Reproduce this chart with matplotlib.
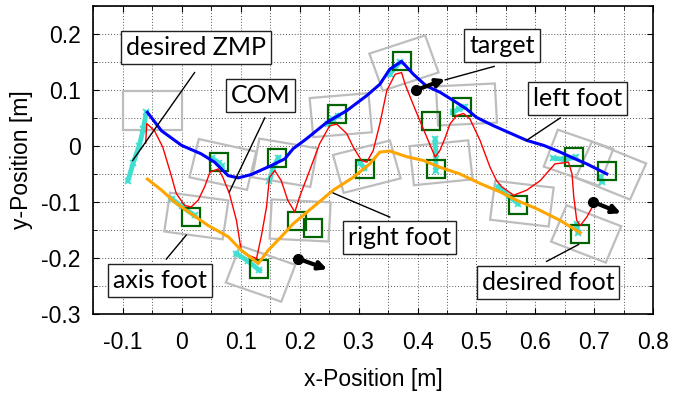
import matplotlib.pyplot as plt
import matplotlib.patches as patches
from matplotlib.ticker import MultipleLocator

# trajectories
left_x = [-0.058, -0.034, 0.0, 0.033, 0.056, 0.079, 0.096, 0.118, 0.152, 0.175, 0.189, 0.212,
          0.246, 0.280, 0.314, 0.336, 0.353, 0.373, 0.393, 0.415, 0.438, 0.461, 0.483, 0.500,
          0.529, 0.585, 0.614, 0.642, 0.667, 0.687, 0.704, 0.721]
left_y = [0.060, 0.027, 0.001, -0.014, -0.029, -0.053, -0.057, -0.051, -0.035, -0.023, -0.005, 0.013,
          0.042, 0.063, 0.090, 0.110, 0.137, 0.151, 0.128, 0.107, 0.096, 0.081, 0.066, 0.051,
          0.036, 0.010, 0.001, -0.011, -0.023, -0.032, -0.041, -0.050]

right_x = [-0.058, -0.034, -0.012, 0.016, 0.045, 0.079, 0.101, 0.130, 0.147, 0.169, 0.189, 0.223,
           0.257, 0.291, 0.319, 0.336, 0.353, 0.381, 0.410, 0.438, 0.472, 0.506, 0.540, 0.568,
           0.602, 0.642, 0.676]
right_y = [-0.059, -0.079, -0.100, -0.121, -0.142, -0.162, -0.186, -0.210, -0.186, -0.162, -0.139, -0.109,
           -0.079, -0.056, -0.032, -0.011, -0.009, -0.019, -0.026, -0.038, -0.050, -0.067, -0.082, -0.097,
           -0.112, -0.133, -0.155]

com_x = [-0.061, -0.059, -0.046, -0.032, -0.020, -0.009, 0.005, 0.016, 0.028, 0.039, 0.048, 0.062,
         0.070, 0.081, 0.093, 0.101, 0.113, 0.127, 0.135, 0.144, 0.149, 0.158, 0.169, 0.180,
         0.192, 0.200, 0.217, 0.234, 0.251, 0.263, 0.280, 0.291, 0.305, 0.314, 0.325, 0.336,
         0.348, 0.362, 0.373, 0.379, 0.390, 0.404, 0.418, 0.430, 0.438, 0.447, 0.455, 0.466,
         0.478, 0.489, 0.506, 0.523, 0.534, 0.543, 0.563, 0.585, 0.608, 0.633, 0.656, 0.662,
         0.665, 0.670, 0.676, 0.687, 0.698]
com_y = [0.005, 0.040, 0.027, -0.002, -0.044, -0.085, -0.106, -0.109, -0.097, -0.073, -0.047, -0.041,
         -0.056, -0.085, -0.133, -0.186, -0.195, -0.201, -0.162, -0.109, -0.056, -0.044, -0.062, -0.097,
         -0.118, -0.091, -0.044, 0.004, 0.036, 0.039, 0.022, -0.002, -0.026, -0.029, -0.008, 0.039,
         0.099, 0.128, 0.131, 0.110, 0.081, 0.045, 0.010, -0.020, -0.008, 0.015, 0.039, 0.054,
         0.058, 0.048, 0.010, -0.038, -0.062, -0.073, -0.088, -0.079, -0.062, -0.032, -0.029, -0.050,
         -0.091, -0.133, -0.142, -0.127, -0.106]

# desired foot positions (green squares)
des_x = [0.016, 0.063, 0.131, 0.161, 0.195, 0.222, 0.264, 0.311, 0.373, 0.423, 0.431, 0.475,
         0.571, 0.666, 0.675, 0.721]
des_y = [-0.126, -0.029, -0.220, -0.021, -0.134, -0.147, 0.057, -0.041, 0.152, 0.045, -0.041, 0.070,
         -0.106, -0.019, -0.158, -0.045]

# actual foot outlines: centre and rotation
foot_x = [-0.049, 0.025, 0.070, 0.134, 0.175, 0.201, 0.270, 0.314, 0.377, 0.440, 0.483,
          0.577, 0.673, 0.728, 0.686]
foot_y = [0.063, -0.125, -0.033, -0.228, -0.030, -0.133, 0.055, -0.037, 0.148, -0.030, 0.074,
          -0.103, -0.021, -0.044, -0.157]
foot_ang = [0, -8, -13, -20, -10, -3, 5, 15, 19, 6, 3, -7, -20, -23, -22]

# measured ZMP streaks
zmp = [
    ([-0.091, -0.082, -0.072, -0.065, -0.060], [-0.062, -0.030, 0.000, 0.030, 0.060]),
    ([-0.017, 0.000, 0.022], [-0.094, -0.108, -0.124]),
    ([0.052, 0.063, 0.068], [-0.022, -0.030, -0.036]),
    ([0.149, 0.155, 0.164], [-0.062, -0.040, -0.021]),
    ([0.093, 0.112, 0.132], [-0.192, -0.205, -0.222]),
    ([0.249, 0.257, 0.265], [0.039, 0.048, 0.054]),
    ([0.303, 0.310], [-0.030, -0.040]),
    ([0.353, 0.362, 0.370], [0.128, 0.140, 0.149]),
    ([0.430, 0.431, 0.431], [0.013, -0.015, -0.044]),
    ([0.460, 0.470, 0.480], [0.060, 0.066, 0.070]),
    ([0.537, 0.555, 0.571], [-0.073, -0.090, -0.103]),
    ([0.630, 0.650, 0.668], [-0.022, -0.024, -0.020]),
    ([0.710, 0.713], [-0.055, -0.064]),
    ([0.670, 0.672], [-0.140, -0.155]),
]

# targets: start point and arrow tip
tgt_x0 = [0.398, 0.197, 0.698]
tgt_y0 = [0.100, -0.201, -0.100]
tgt_x1 = [0.447, 0.247, 0.745]
tgt_y1 = [0.119, -0.220, -0.120]

# labels: text position, leader line start and end
labels = ['desired ZMP', 'COM', 'target', 'left foot', 'right foot', 'axis foot', 'desired foot']
lab_x = [0.024, 0.134, 0.543, 0.672, 0.370, -0.037, 0.621]
lab_y = [0.176, 0.090, 0.179, 0.085, -0.163, -0.240, -0.243]
lead_x0 = [0.022, 0.141, 0.530, 0.642, 0.353, -0.026, 0.619]
lead_y0 = [0.131, 0.050, 0.142, 0.050, -0.127, -0.202, -0.206]
lead_x1 = [-0.083, 0.081, 0.447, 0.585, 0.257, 0.008, 0.673]
lead_y1 = [-0.026, -0.082, 0.118, 0.010, -0.084, -0.159, -0.176]

plt.rcParams['font.family'] = ['Liberation Sans', 'DejaVu Sans']
fig, ax = plt.subplots(figsize=(6.75, 3.94), dpi=100)
fig.subplots_adjust(left=0.138, right=0.968, top=0.985, bottom=0.203)

# foot outlines
fw, fh = 0.10, 0.07
for cx, cy, a in zip(foot_x, foot_y, foot_ang):
    r = patches.Rectangle((cx - fw / 2, cy - fh / 2), fw, fh, angle=a, rotation_point='center',
                          fill=False, ec='#bdbdbd', lw=1.6, zorder=2)
    ax.add_patch(r)

# measured zmp
for zx, zy in zmp:
    ax.plot(zx, zy, color='#40e0d0', lw=3.5, marker='x', ms=5, mew=1.2, zorder=3)

ax.plot(des_x, des_y, ls='none', marker='s', ms=13.5, mfc='none', mec='#006400', mew=1.6, zorder=4)

ax.plot(com_x, com_y, color='red', lw=1.0, zorder=5)
ax.plot(right_x, right_y, color='orange', lw=2.2, zorder=6)
ax.plot(left_x, left_y, color='blue', lw=2.2, zorder=7)

# targets
for x0, y0, x1, y1 in zip(tgt_x0, tgt_y0, tgt_x1, tgt_y1):
    ax.plot(x0, y0, 'o', color='black', ms=7, zorder=8)
    ax.annotate('', xy=(x1, y1), xytext=(x0, y0),
                arrowprops=dict(arrowstyle='-|>', color='black', lw=3, mutation_scale=12,
                                shrinkA=0, shrinkB=0), zorder=8)

# labels with leader lines
for t, tx, ty, x0, y0, x1, y1 in zip(labels, lab_x, lab_y, lead_x0, lead_y0, lead_x1, lead_y1):
    ax.plot([x0, x1], [y0, y1], color='black', lw=1.0, zorder=9)
    ax.text(tx, ty, t, ha='center', va='center', fontsize=18, family=['Lato', 'DejaVu Sans'],
            zorder=10, bbox=dict(boxstyle='square,pad=0.2', fc='white', ec='#222222', lw=1.0))

ax.set_xlim(-0.15, 0.8)
ax.set_ylim(-0.3, 0.25)
ax.xaxis.set_minor_locator(MultipleLocator(0.05))
ax.yaxis.set_minor_locator(MultipleLocator(0.05))
ax.set_xticks([-0.1, 0, 0.1, 0.2, 0.3, 0.4, 0.5, 0.6, 0.7, 0.8])
ax.set_xticklabels(['-0.1', '0', '0.1', '0.2', '0.3', '0.4', '0.5', '0.6', '0.7', '0.8'])
ax.set_yticks([-0.3, -0.2, -0.1, 0, 0.1, 0.2])
ax.set_yticklabels(['-0.3', '-0.2', '-0.1', '0', '0.1', '0.2'])
ax.tick_params(which='both', direction='in', top=True, right=True, labelsize=16.5)
ax.tick_params(axis='x', pad=12)
ax.tick_params(axis='y', pad=9)
ax.tick_params(which='major', length=4)
ax.tick_params(which='minor', length=3)
ax.grid(which='both', color='#555555', ls=(0, (1, 2)), lw=0.7)
ax.set_axisbelow(True)
for s in ax.spines.values():
    s.set_linewidth(1.2)

ax.set_xlabel('x-Position [m]', fontsize=16.5, labelpad=10)
ax.set_ylabel('y-Position [m]', fontsize=16.5, labelpad=6)

plt.savefig('out.png', dpi=100)
